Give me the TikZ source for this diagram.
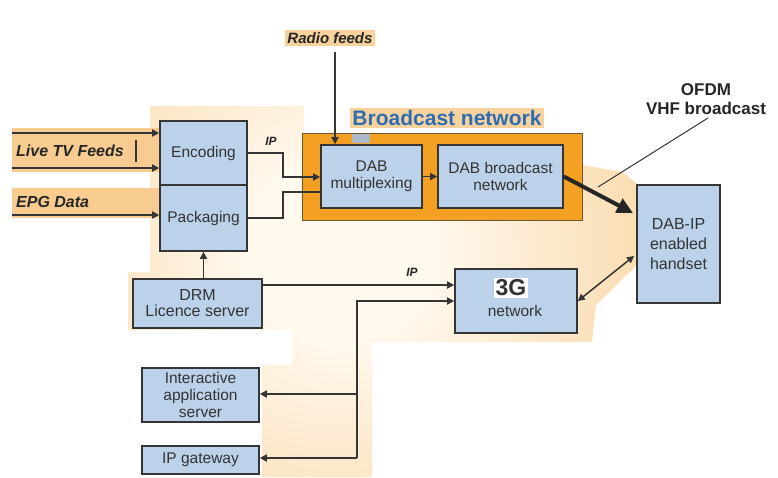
\documentclass[tikz,border=0pt]{standalone}
\usepackage{fontspec}
\setmainfont{Liberation Sans}
\usetikzlibrary{arrows.meta,shadings}
\definecolor{boxblue}{HTML}{BCD2EA}
\definecolor{edge}{HTML}{353535}
\definecolor{txt}{HTML}{333333}
\definecolor{bandor}{HTML}{F8CC90}
\definecolor{lightor}{HTML}{F8D29C}
\definecolor{cream}{HTML}{FFF8EC}
\definecolor{bnorange}{HTML}{F4A022}
\definecolor{bnblue}{HTML}{2E6DB4}
\definecolor{greyblk}{HTML}{A9B9C9}
\pgfdeclareradialshading{bgshade}{\pgfpoint{0bp}{0bp}}{color(0bp)=(cream); color(6bp)=(cream); color(24bp)=(lightor); color(50bp)=(lightor)}
\begin{document}
\begin{tikzpicture}[x=1pt,y=-1pt,
  box/.style={draw=edge,line width=1.6pt,fill=boxblue,text=txt,align=center,inner sep=0pt,
    font=\fontsize{15.5}{17.5}\selectfont},
  conn/.style={draw=edge,line width=1.9pt},
  tip/.style={-{Triangle[length=7pt,width=7pt]}},
  bi/.style={font=\fontsize{#1}{#1}\selectfont\bfseries\itshape,text=black!85},
  lbl/.style={inner sep=1pt}]
\useasboundingbox (0,0) rectangle (778,477);
\fill[white] (0,0) rectangle (778,477);
% background gradient area
\begin{scope}
\clip (150,106) -- (304,106) -- (304,140) -- (582,140) -- (582,165) -- (622,172) -- (640,186)
  -- (640,262) -- (596,305) -- (592,342) -- (372,342) -- (372,477) -- (262,477) -- (262,365)
  -- (292,365) -- (292,330) -- (128,330) -- (128,272) -- (150,272) -- cycle;
\shade[shading=bgshade] (340,250) circle (400pt);
\end{scope}
% input bands
\fill[bandor] (12,128) rectangle (160,172);
\fill[bandor] (12,188) rectangle (160,218);
\node[bi=16,anchor=west,lbl] (live) at (15,151) {Live TV Feeds};
\draw[edge,line width=1.5pt] (136,140) -- (136,162);
\node[bi=16,anchor=west,lbl] (epg) at (15,202) {EPG Data};
% broadcast network frame
\node[draw=edge!70!bnorange,line width=1pt,fill=bnorange,minimum width=280,minimum height=87,inner sep=0pt] (bn) at (442,176.5) {};
\fill[greyblk] (352,133.5) rectangle (370,143);
\node[fill=lightor,inner sep=2pt,text=bnblue,font=\fontsize{21}{21}\selectfont\bfseries] (bnl) at (447,118) {Broadcast network};
\node[fill=lightor,inner sep=2pt,bi=15] (radio) at (330,38) {Radio feeds};
% boxes
\node[box,minimum width=87,minimum height=64] (enc) at (203.5,153) {Encoding};
\node[box,minimum width=87,minimum height=66] (pkg) at (203.5,218) {Packaging};
\node[box,minimum width=101,minimum height=63] (mux) at (371.5,176.5) {DAB\\multiplexing};
\node[box,minimum width=125,minimum height=63] (bcast) at (500.5,176.5) {DAB broadcast\\network};
\node[box,minimum width=83,minimum height=118,font=\fontsize{16}{20}\selectfont] (hs) at (678.5,244) {DAB-IP\\enabled\\handset};
\node[box,minimum width=122,minimum height=64] (g3) at (516,301) {};
\node[fill=white,inner sep=2pt,text=txt,font=\fontsize{23}{23}\selectfont\bfseries] (g3a) at (511,288) {3G};
\node[text=txt,inner sep=0pt,font=\fontsize{15.5}{17}\selectfont] (g3b) at (515,311) {network};
\node[box,minimum width=129,minimum height=49,font=\fontsize{16}{16}\selectfont] (drm) at (197.5,303.5) {DRM\\Licence server};
\node[box,minimum width=117,minimum height=54,font=\fontsize{15.5}{17}\selectfont] (ias) at (200.5,395) {Interactive\\application\\server};
\node[box,minimum width=117,minimum height=28] (ipg) at (200.5,460) {IP gateway};
\node[text=black!85,inner sep=2pt,fill=white,align=center,font=\fontsize{17}{19}\selectfont\bfseries] (ofdm) at (706,99) {OFDM\\VHF broadcast};
% IP labels
\node[bi=12,lbl] (ip1) at (271,141) {IP};
\node[bi=12,lbl] (ip2) at (412,272) {IP};
% coordinates
\coordinate (l1) at (12,133);
\coordinate (l2) at (12,168);
\coordinate (e1) at (12,215);
\coordinate (k1) at (283,153);
\coordinate (k2) at (283,177);
\coordinate (k3) at (283,218);
\coordinate (k4) at (283,192);
\coordinate (rf) at (335,52);
\coordinate (th) at (633,213);
\coordinate (of) at (598,187);
\coordinate (ofs) at (708,118);
\coordinate (dh) at (634,256);
\coordinate (d1) at (262,285);
\coordinate (b1) at (357,301);
\coordinate (b2) at (357,394);
\coordinate (b3) at (357,458);
% connectors
\draw[conn,tip] (l1) -- (l1 -| enc.west);
\draw[conn,tip] (l2) -- (l2 -| enc.west);
\draw[conn,tip] (e1) -- (e1 -| pkg.west);
\draw[conn,tip] (enc.east) -- (k1) -- (k2) -- (k2 -| mux.west);
\draw[conn] (pkg.east) -- (k3) -- (k4) -- (k4 -| mux.west);
\draw[conn,tip] (rf) -- (rf |- mux.north);
\draw[conn,tip] (mux.east) -- (bcast.west);
\draw[draw=black!85,line width=4pt,-{Triangle[length=16pt,width=15pt]}] (bcast.east) -- (th);
\draw[edge,line width=1pt] (ofs) -- (of);
\draw[edge,line width=1.5pt,{Triangle[length=7pt,width=7pt]}-{Triangle[length=7pt,width=7pt]}] (g3.east) -- (dh);
\draw[conn,tip] (pkg.south |- drm.north) -- (pkg.south);
\draw[conn,tip] (d1) -- (d1 -| g3.west);
\draw[conn,tip] (b3) -- (b1) -- (b1 -| g3.west);
\draw[conn,tip] (b2) -- (b2 -| ias.east);
\draw[conn,tip] (b3) -- (b3 -| ipg.east);
\end{tikzpicture}
\end{document}
